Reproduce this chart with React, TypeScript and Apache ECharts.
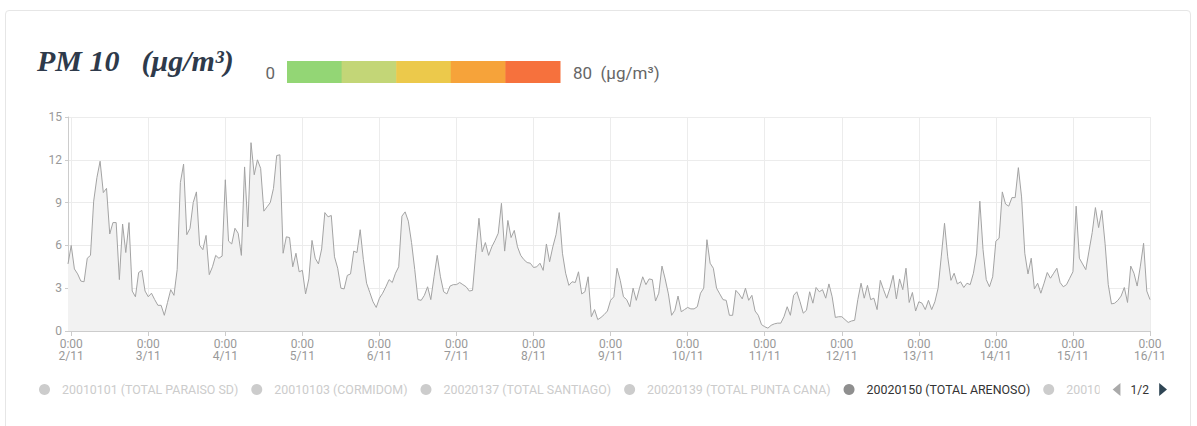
import React, { useEffect, useRef } from "react";
import * as echarts from "echarts";

// PM10 hourly values (µg/m³), from 1/11 23:00 to 16/11 0:00
const lead = [4.7]; // 1/11 23:00
const nov02 = [6.0, 4.35, 4.0, 3.5, 3.45, 5.1, 5.3, 9.1, 10.75, 11.9, 9.7, 10.0, 6.8, 7.6, 7.6, 3.6, 7.5, 5.5, 7.6, 2.8, 2.4, 4.1, 4.25, 2.8];
const nov03 = [2.4, 2.65, 2.2, 1.8, 1.8, 1.1, 2.0, 2.9, 2.5, 4.3, 10.4, 11.7, 6.75, 7.2, 9.0, 9.75, 6.0, 5.7, 6.7, 3.95, 4.5, 5.3, 5.1, 5.25];
const nov04 = [10.6, 6.3, 6.1, 7.2, 6.85, 5.3, 11.5, 7.3, 13.2, 10.95, 12.0, 11.4, 8.4, 8.7, 9.0, 10.0, 12.3, 12.35, 5.45, 6.6, 6.55, 4.5, 5.45, 4.15];
const nov05 = [4.25, 2.6, 3.65, 6.35, 5.1, 4.7, 5.75, 8.3, 8.0, 8.1, 5.2, 4.4, 3.0, 2.95, 3.9, 4.0, 5.6, 5.5, 7.1, 5.0, 3.35, 2.7, 2.05, 1.65];
const nov06 = [2.3, 2.65, 3.1, 3.6, 3.4, 4.05, 4.5, 8.05, 8.35, 7.7, 6.2, 4.3, 2.2, 2.15, 2.5, 3.1, 2.2, 3.8, 5.3, 3.8, 2.75, 2.6, 3.15, 3.25];
const nov07 = [3.25, 3.4, 3.25, 3.1, 2.8, 2.85, 5.45, 7.9, 5.55, 6.2, 5.3, 5.9, 6.35, 6.85, 8.95, 5.6, 7.75, 6.55, 7.05, 5.9, 5.3, 5.0, 4.8, 4.75];
const nov08 = [4.45, 4.5, 4.75, 4.25, 6.1, 4.85, 5.9, 6.75, 8.3, 5.45, 4.05, 3.2, 3.45, 3.4, 4.15, 2.6, 2.75, 3.8, 1.0, 1.5, 0.8, 0.95, 1.15, 1.4];
const nov09 = [2.15, 2.4, 4.4, 3.55, 2.4, 2.2, 1.7, 3.0, 2.15, 3.0, 3.8, 3.25, 3.65, 3.6, 2.1, 2.65, 4.55, 3.65, 2.6, 1.1, 1.45, 2.45, 1.35, 1.5];
const nov10 = [1.65, 1.55, 1.55, 1.7, 2.65, 3.0, 6.4, 4.75, 4.4, 3.0, 2.6, 2.2, 2.15, 1.1, 1.1, 2.85, 2.6, 2.25, 3.0, 2.15, 2.5, 1.4, 1.1, 0.45];
const nov11 = [0.3, 0.2, 0.4, 0.5, 0.55, 0.55, 1.0, 1.7, 1.1, 2.5, 2.75, 2.05, 1.25, 1.45, 2.75, 1.95, 3.05, 2.75, 2.9, 2.3, 3.3, 2.4, 0.95, 1.0];
const nov12 = [1.0, 0.8, 0.6, 0.7, 0.75, 2.2, 3.35, 2.3, 3.2, 2.2, 2.3, 1.5, 3.55, 2.9, 2.3, 3.0, 3.9, 2.25, 3.65, 2.9, 4.4, 2.0, 2.7, 1.4];
const nov13 = [2.05, 1.95, 1.5, 2.15, 1.5, 2.05, 3.0, 5.25, 7.55, 5.2, 3.55, 4.05, 3.3, 3.45, 3.05, 3.35, 3.25, 4.05, 5.4, 9.1, 5.7, 3.6, 3.1, 3.8];
const nov14 = [6.3, 6.5, 9.75, 8.9, 8.75, 9.35, 9.35, 11.45, 9.4, 5.45, 4.0, 5.1, 2.95, 3.35, 2.65, 3.35, 4.1, 3.7, 4.05, 4.4, 3.4, 3.1, 3.25, 3.7];
const nov15 = [4.15, 8.75, 5.1, 4.7, 4.3, 5.6, 6.9, 8.65, 7.25, 8.45, 6.15, 3.25, 1.9, 1.95, 2.15, 2.45, 3.05, 2.0, 4.55, 4.05, 3.15, 4.55, 6.15, 2.8];
const nov16 = [2.2];

const days = ["2/11", "3/11", "4/11", "5/11", "6/11", "7/11", "8/11", "9/11", "10/11", "11/11", "12/11", "13/11", "14/11", "15/11", "16/11"];

const legendNames = [
  "20010101 (TOTAL PARAISO SD)",
  "20010103 (CORMIDOM)",
  "20020137 (TOTAL SANTIAGO)",
  "20020139 (TOTAL PUNTA CANA)",
  "20020150 (TOTAL ARENOSO)",
  "20010105 (TOTAL LA ROMANA)",
  "20010106 (TOTAL HIGUEY)",
];
const activeSeries = "20020150 (TOTAL ARENOSO)";

const scaleColors = ["#93d675", "#c3d677", "#ecc94b", "#f6a33a", "#f6713d"];
const scaleMin = "0";
const scaleMax = "80  (μg/m³)";

export default function App() {
  const ref = useRef<HTMLDivElement>(null);
  useEffect(() => {
    if (!ref.current) return;
    const chart = echarts.init(ref.current, null, { renderer: "svg" });
    const values = [...lead, ...nov02, ...nov03, ...nov04, ...nov05, ...nov06, ...nov07, ...nov08, ...nov09, ...nov10, ...nov11, ...nov12, ...nov13, ...nov14, ...nov15, ...nov16];
    const cats: string[] = [];
    for (let i = 0; i < values.length; i++) {
      if (i === 0) {
        cats.push("23:00\n1/11");
      } else {
        const h = (i - 1) % 24;
        const d = Math.floor((i - 1) / 24);
        cats.push(`${h}:00\n${days[d]}`);
      }
    }
    const isDay = (idx: number) => idx % 24 === 1;
    const segW = 273 / scaleColors.length;
    const graphics: any[] = scaleColors.map((c, i) => ({
      type: "rect",
      shape: { x: 287 + i * segW, y: 61, width: segW + 0.5, height: 22 },
      style: { fill: c },
    }));
    graphics.push({
      type: "text",
      x: 275,
      y: 73,
      style: { text: scaleMin, fill: "#666", font: "17px Roboto", textAlign: "right", textVerticalAlign: "middle" },
    });
    graphics.push({
      type: "text",
      x: 573,
      y: 73,
      style: { text: scaleMax, fill: "#666", font: "17px Roboto", textAlign: "left", textVerticalAlign: "middle" },
    });

    const series: any[] = legendNames.map((name) => {
      if (name === activeSeries) {
        return {
          name,
          type: "line",
          data: values,
          symbol: "none",
          color: "#8f8f8f",
          lineStyle: { color: "#a3a3a3", width: 1 },
          areaStyle: { color: "#f2f2f2", opacity: 1 },
        };
      }
      return { name, type: "line", data: [], symbol: "none", color: "#999" };
    });
    const selected: Record<string, boolean> = {};
    legendNames.forEach((n) => (selected[n] = n === activeSeries));

    chart.setOption({
      animation: false,
      backgroundColor: "transparent",
      title: {
        left: 32,
        top: 40,
        text: "{a|PM 10}{b|(μg/m³)}",
        textStyle: {
          rich: {
            a: { fontFamily: "Liberation Serif", fontStyle: "italic", fontWeight: "bold", fontSize: 30, color: "#2e3a4b" },
            b: { fontFamily: "Liberation Serif", fontStyle: "italic", fontWeight: "bold", fontSize: 30, color: "#2e3a4b", padding: [0, 0, 0, 22] },
          },
        },
      },
      graphic: graphics,
      legend: {
        type: "scroll",
        data: legendNames,
        selected,
        left: 34,
        width: 1128,
        top: 378,
        icon: "circle",
        itemWidth: 25,
        itemHeight: 11,
        itemGap: 13,
        inactiveColor: "#ccc",
        textStyle: { fontFamily: "Roboto", fontSize: 12.4, color: "#333" },
        pageTextStyle: { fontFamily: "Roboto", fontSize: 12, color: "#333" },
        pageIconColor: "#2f4554",
        pageIconInactiveColor: "#aaa",
        pageIconSize: 13,
      },
      grid: { left: 68, right: 47, top: 117, bottom: 95, containLabel: false },
      xAxis: {
        type: "category",
        boundaryGap: false,
        data: cats,
        axisLine: { show: true, lineStyle: { color: "#ccc" } },
        axisTick: { show: true, interval: (i: number) => isDay(i), length: 5, lineStyle: { color: "#ccc" } },
        axisLabel: {
          interval: (i: number) => isDay(i),
          color: "#999",
          fontFamily: "Roboto",
          fontSize: 12,
          lineHeight: 12,
          margin: 7,
        },
        splitLine: { show: true, interval: (i: number) => isDay(i), lineStyle: { color: "#ececec" } },
      },
      yAxis: {
        type: "value",
        min: 0,
        max: 15,
        interval: 3,
        axisLine: { show: true, lineStyle: { color: "#ccc" } },
        axisTick: { show: true, length: 3, lineStyle: { color: "#ccc" } },
        axisLabel: { color: "#999", fontFamily: "Roboto", fontSize: 12, margin: 6 },
        splitLine: { show: true, lineStyle: { color: "#ececec" } },
      },
      series,
    });
    return () => chart.dispose();
  }, []);

  return (
    <div style={{ position: "fixed", left: 0, top: 0, width: 1197, height: 426, background: "#fff", overflow: "hidden" }}>
      <div
        style={{
          position: "absolute",
          left: 5,
          top: 10,
          width: 1186,
          height: 440,
          border: "1px solid #e6e6e6",
          borderRadius: 4,
          boxSizing: "border-box",
        }}
      />
      <div ref={ref} style={{ position: "absolute", left: 0, top: 0, width: 1197, height: 426 }} />
    </div>
  );
}
